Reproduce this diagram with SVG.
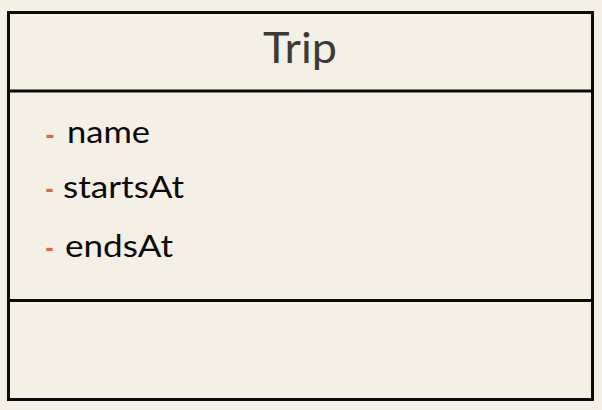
<svg xmlns="http://www.w3.org/2000/svg" width="602" height="410" viewBox="0 0 602 410">
<style>
.bg{fill:#f4f0e5}
.box{fill:#f4f0e5;stroke:#0a0a0a;stroke-width:3}
.div{stroke:#0a0a0a;stroke-width:3}
.title{font-family:Lato,"Noto Sans",sans-serif;font-size:43px;fill:#3a3a3a}
.attr{font-family:Lato,"Noto Sans",sans-serif;font-size:30px;fill:#0a0a0a}
.dash{font-family:Lato,"Noto Sans",sans-serif;font-size:30px;font-weight:bold;fill:#e8643c}
</style>
<rect class="bg" x="0" y="0" width="602" height="410"/>
<g id="trip">
<rect class="box" x="8.5" y="12.5" width="584" height="387"/>
<line class="div" x1="8.5" y1="91" x2="592.5" y2="91"/>
<line class="div" x1="8.5" y1="300.5" x2="592.5" y2="300.5"/>
<text class="title" x="263" y="63" textLength="74" lengthAdjust="spacingAndGlyphs">Trip</text>
<text class="dash" x="45" y="146" textLength="10" lengthAdjust="spacingAndGlyphs">-</text>
<text class="attr" x="67" y="143" textLength="83" lengthAdjust="spacingAndGlyphs">name</text>
<text class="dash" x="45" y="200" textLength="9" lengthAdjust="spacingAndGlyphs">-</text>
<text class="attr" x="63" y="198" textLength="121" lengthAdjust="spacingAndGlyphs">startsAt</text>
<text class="dash" x="45" y="259" textLength="9" lengthAdjust="spacingAndGlyphs">-</text>
<text class="attr" x="65" y="257" textLength="108" lengthAdjust="spacingAndGlyphs">endsAt</text>
</g>
</svg>
